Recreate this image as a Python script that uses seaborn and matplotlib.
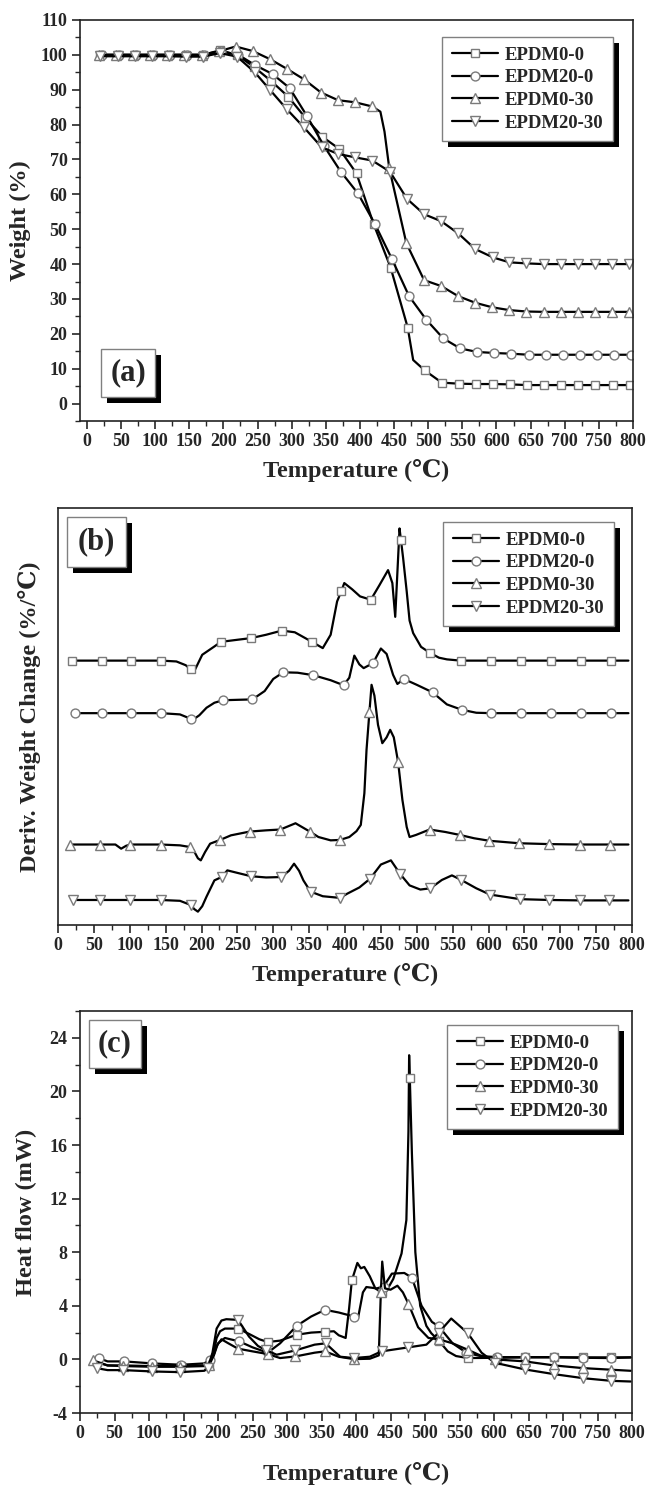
import matplotlib
matplotlib.use("Agg")
import matplotlib.pyplot as plt
import seaborn as sns
from matplotlib.patches import Rectangle
from matplotlib.ticker import MultipleLocator
from matplotlib.transforms import IdentityTransform

sns.set_theme(style="ticks")
plt.rcParams["font.family"] = ["Liberation Serif", "DejaVu Serif"]
plt.rcParams["font.weight"] = "bold"
plt.rcParams["axes.labelweight"] = "bold"
plt.rcParams["axes.unicode_minus"] = False

names = ["EPDM0-0", "EPDM20-0", "EPDM0-30", "EPDM20-30"]
markers = ["s", "o", "^", "v"]

# ---- (a) weight (%) vs temperature
a_t00 = [20, 45, 70, 95, 120, 145, 170, 195, 220, 245, 270, 295, 320, 345, 370, 395, 420, 445, 470, 478, 495,
         520, 545, 570, 595, 620, 645, 670, 695, 720, 745, 770, 795]
a_w00 = [100, 100, 100, 100, 100, 100, 100, 101.3, 100, 96.5, 92.5, 88, 82, 76.5, 73, 66, 51.5, 39, 21.8, 12.5, 9.5,
         6, 5.7, 5.6, 5.6, 5.5, 5.3, 5.3, 5.3, 5.3, 5.3, 5.3, 5.3]
a_m00 = [20, 45, 70, 95, 120, 145, 170, 195, 220, 245, 270, 295, 320, 345, 370, 395, 420, 445, 470, 495,
         520, 545, 570, 595, 620, 645, 670, 695, 720, 745, 770, 795]

a_t200 = [22, 47, 72, 97, 122, 147, 172, 197, 222, 247, 272, 297, 322, 347, 372, 397, 422, 447, 472, 497, 522,
          547, 572, 597, 622, 647, 672, 697, 722, 747, 772, 797]
a_w200 = [100, 100, 100, 100, 100, 100, 100, 101, 100, 97, 94.5, 90.5, 82.6, 74, 66.5, 60.3, 51.5, 41.4, 30.8, 24.1,
          18.7, 15.8, 14.8, 14.5, 14.3, 14.0, 14.0, 14.0, 14.0, 14.0, 14.0, 14.0]
a_m200 = a_t200

a_t030 = [18, 43, 68, 93, 118, 143, 168, 193, 218, 243, 268, 293, 318, 343, 368, 393, 418, 430, 436, 443, 468,
          494, 519, 544, 569, 594, 619, 644, 669, 694, 719, 744, 769, 794]
a_w030 = [100, 100, 100, 100, 100, 100, 100, 101, 102.4, 101.1, 98.8, 96, 93, 89.2, 87, 86.4, 85.2, 83.7, 78, 67.5,
          46, 35.4, 33.7, 30.8, 28.9, 27.6, 26.8, 26.4, 26.3, 26.3, 26.3, 26.3, 26.3, 26.3]
a_m030 = [18, 43, 68, 93, 118, 143, 168, 193, 218, 243, 268, 293, 318, 343, 368, 393, 418, 443, 468,
          494, 519, 544, 569, 594, 619, 644, 669, 694, 719, 744, 769, 794]

a_t2030 = [20, 45, 70, 95, 120, 145, 170, 195, 220, 246, 269, 293, 318, 344, 368, 393, 418, 444, 469, 494, 519,
           544, 569, 595, 619, 644, 669, 694, 719, 744, 769, 794]
a_w2030 = [99.6, 99.6, 99.6, 99.6, 99.6, 99.5, 99.5, 100.5, 99.5, 95, 89.8, 84.4, 79.2, 73.5, 71.6, 70.6, 69.7, 66.5,
           58.7, 54.3, 52.3, 48.8, 44.3, 41.9, 40.5, 40.2, 40, 40, 40, 40, 40, 40]
a_m2030 = a_t2030

# ---- (b) derivative weight change (arbitrary offset units, 0-100 frame)
b_t00 = [19, 61, 102, 144, 165, 178, 185, 190, 201, 218, 227, 250, 269, 290, 312, 330, 354, 369, 380, 389, 395,
         399, 410, 421, 436, 448, 460, 466, 470, 474, 476, 478, 481, 486, 490, 495, 506, 518, 531, 542, 561,
         603, 645, 687, 729, 771, 795]
b_y00 = [63.4, 63.4, 63.4, 63.4, 63.2, 62.3, 61.3, 60.9, 64.8, 66.8, 67.9, 68.4, 68.8, 69.6, 70.6, 70.2, 67.9, 66.4,
         69.6, 77.6, 80.1, 82.0, 80.5, 78.8, 78.0, 81.5, 85.1, 82, 73.9, 88, 95.1, 92.3, 88, 80, 73, 70, 66.7, 65.3,
         64.1, 63.7, 63.4, 63.4, 63.4, 63.4, 63.4, 63.4, 63.4]
b_m00 = [19, 61, 102, 144, 185, 227, 269, 312, 354, 395, 436, 478, 518, 561, 603, 645, 687, 729, 771]

b_t200 = [23, 61, 102, 144, 170, 180, 186, 188, 197, 207, 218, 230, 250, 271, 288, 300, 314, 334, 356, 380, 398,
          406, 413, 420, 426, 439, 450, 458, 467, 473, 482, 500, 522, 542, 563, 583, 604, 645, 687, 729, 771, 795]
b_y200 = [50.8, 50.8, 50.8, 50.8, 50.5, 49.8, 49.3, 49.2, 50.3, 52.1, 53.3, 53.9, 54.0, 54.1, 56.1, 59, 60.6, 60.5,
          59.9, 58.7, 57.5, 59.3, 64.6, 62.5, 61.6, 62.8, 66.3, 65, 60, 57.8, 59.0, 57.6, 55.8, 52.9, 51.6, 50.9,
          50.8, 50.8, 50.8, 50.8, 50.8, 50.8]
b_m200 = [23, 61, 102, 144, 186, 230, 271, 314, 356, 398, 439, 482, 522, 563, 604, 645, 687, 729, 771]

b_t030 = [17, 59, 80, 88, 95, 101, 143, 170, 184, 189, 195, 199, 205, 212, 226, 241, 267, 290, 310, 331, 351, 363,
          380, 393, 406, 416, 422, 427, 430, 434, 437, 441, 446, 452, 458, 463, 468, 474, 480, 486, 490, 499, 518,
          540, 560, 580, 601, 643, 685, 727, 769, 795]
b_y030 = [19.3, 19.3, 19.3, 18.3, 19.0, 19.3, 19.3, 19.1, 18.7, 17.9, 16, 15.5, 17.5, 19.5, 20.4, 21.5, 22.4, 22.7,
          22.9, 24.4, 22.4, 21.1, 20.3, 20.4, 21.1, 22.5, 24, 31.6, 42, 51, 57.6, 55, 48, 43.6, 45, 46.8, 45, 39.1,
          30, 23.5, 21.1, 21.6, 22.9, 22.3, 21.6, 20.8, 20.2, 19.6, 19.4, 19.3, 19.3, 19.3]
b_m030 = [17, 59, 101, 143, 184, 226, 267, 310, 351, 393, 434, 474, 518, 560, 601, 643, 685, 727, 769]

b_t2030 = [21, 59, 101, 143, 170, 185, 190, 195, 201, 207, 218, 228, 236, 250, 269, 290, 311, 322, 329, 336, 342,
           352, 369, 393, 403, 420, 435, 450, 464, 477, 490, 505, 519, 535, 549, 561, 583, 602, 644, 685, 727, 768,
           795]
b_y2030 = [6.0, 6.0, 6.0, 6.0, 5.8, 4.8, 3.8, 3.2, 4.5, 6.8, 10.7, 11.5, 13.1, 12.5, 11.7, 11.4, 11.5, 13, 14.7, 13,
           10.7, 8.0, 6.9, 6.5, 7.5, 9, 11.1, 14.5, 15.5, 12.2, 9.5, 8.5, 8.8, 10.8, 11.9, 10.9, 8.8, 7.3, 6.2, 6.0,
           5.9, 5.9, 5.9]
b_m2030 = [21, 59, 101, 143, 185, 228, 269, 311, 352, 393, 435, 477, 519, 561, 602, 644, 685, 727, 768]

# ---- (c) heat flow (mW)
c_t00 = [24, 40, 63, 105, 146, 180, 187, 193, 198, 203, 210, 229, 245, 260, 272, 290, 314, 335, 355, 368, 375, 385,
         390, 394, 402, 407, 412, 420, 428, 437, 444, 454, 466, 473, 476, 477, 478, 481, 486, 493, 502, 509, 521,
         533, 545, 562, 604, 645, 687, 729, 770, 798]
c_y00 = [-0.2, -0.45, -0.45, -0.5, -0.5, -0.45, -0.4, 0.3, 1.6, 2.1, 2.3, 2.3, 1.9, 1.5, 1.3, 1.4, 1.84, 2.0, 2.06,
         2.1, 1.8, 1.6, 3.8, 5.9, 7.2, 6.8, 6.9, 6.2, 5.3, 5.0, 5.1, 6.0, 7.9, 10.4, 17, 22.7, 21.0, 15.4, 8.0, 4.0,
         2.5, 1.96, 1.34, 0.6, 0.25, 0.1, 0.12, 0.15, 0.15, 0.15, 0.15, 0.15]
c_m00 = [24, 63, 105, 146, 187, 229, 272, 314, 355, 394, 437, 478, 521, 562, 604, 645, 687, 729, 770]

c_t200 = [27, 40, 64, 105, 147, 180, 188, 194, 200, 210, 231, 250, 272, 290, 314, 335, 355, 375, 397, 403, 410, 415,
          430, 440, 452, 470, 481, 495, 510, 520, 540, 560, 580, 604, 645, 687, 729, 770, 798]
c_y200 = [0.1, -0.15, -0.15, -0.3, -0.4, -0.3, -0.07, 0.3, 1.2, 1.6, 1.34, 0.9, 0.5, 1.2, 2.5, 3.2, 3.7, 3.5, 3.2,
          3.1, 5.0, 5.4, 5.3, 5.44, 6.4, 6.45, 6.1, 4.0, 2.8, 2.46, 1.2, 0.5, 0.25, 0.17, 0.17, 0.17, 0.12, 0.1, 0.15]
c_m200 = [27, 64, 105, 147, 188, 231, 272, 314, 355, 397, 440, 481, 520, 560, 604, 645, 687, 729, 770]

c_t030 = [19, 40, 63, 105, 145, 180, 187, 193, 198, 205, 215, 229, 250, 272, 290, 312, 340, 355, 375, 397, 420, 433,
          436, 438, 442, 450, 460, 468, 476, 490, 505, 520, 540, 562, 580, 602, 645, 687, 729, 770, 798]
c_y030 = [-0.07, -0.45, -0.5, -0.55, -0.55, -0.5, -0.45, 0.2, 1.0, 1.5, 1.2, 0.8, 0.6, 0.4, 0.1, 0.22, 0.5, 0.6,
          0.2, 0.02, 0.05, 0.3, 5.0, 7.3, 5.3, 5.2, 5.5, 5.0, 4.15, 2.4, 1.6, 1.5, 1.2, 0.72, 0.3, 0.0, -0.15, -0.45,
          -0.65, -0.77, -0.85]
c_m030 = [19, 63, 105, 145, 187, 229, 272, 312, 355, 397, 436, 476, 520, 562, 602, 645, 687, 729, 770]

c_t2030 = [24, 40, 63, 105, 145, 180, 185, 192, 198, 205, 212, 229, 245, 258, 269, 285, 312, 340, 356, 377, 397,
           420, 437, 476, 502, 520, 538, 562, 582, 601, 645, 687, 729, 770, 798]
c_y2030 = [-0.65, -0.8, -0.8, -0.9, -0.95, -0.85, -0.65, 0.5, 2.3, 2.9, 3.0, 2.95, 1.7, 1.0, 0.7, 0.35, 0.67, 1.1,
           1.2, 0.2, 0.1, 0.2, 0.6, 0.9, 1.1, 2.0, 3.05, 1.96, 0.5, -0.25, -0.75, -1.1, -1.4, -1.6, -1.65]
c_m2030 = [24, 63, 105, 145, 185, 229, 269, 312, 356, 397, 437, 476, 520, 562, 601, 645, 687, 729, 770]

W, H = 648, 1491
fig = plt.figure(figsize=(W / 100, H / 100), dpi=100)


def px_axes(left, top, right, bottom):
    return fig.add_axes([left / W, 1 - bottom / H, (right - left) / W, (bottom - top) / H])


def draw_series(ax, series):
    for (t, y, mk), name, m in zip(series, names, markers):
        idx = [t.index(v) for v in mk]
        sns.lineplot(x=t, y=y, ax=ax, estimator=None, sort=False, legend=False, color="black", lw=1.6,
                     marker=m, markevery=idx, ms=7.0 if m in "^v" else 6.4, mfc="white", mec="#7a7a7a",
                     mew=1.0, label=name)


def style_axes(ax, xlim, ylim, ylabel, xpad, ypad, ymaj=None, ymin=None):
    ax.set_xlim(*xlim)
    ax.set_ylim(*ylim)
    ax.xaxis.set_major_locator(MultipleLocator(50))
    ax.xaxis.set_minor_locator(MultipleLocator(25))
    if ymaj:
        ax.yaxis.set_major_locator(MultipleLocator(ymaj))
        ax.yaxis.set_minor_locator(MultipleLocator(ymin))
    else:
        ax.set_yticks([])
    ax.tick_params(which="major", direction="out", length=6, width=1.2, labelsize=13, pad=3)
    ax.tick_params(which="minor", direction="out", length=3.5, width=1.0)
    for lab in ax.get_xticklabels() + ax.get_yticklabels():
        lab.set_fontweight("bold")
    for sp in ax.spines.values():
        sp.set_visible(True)
        sp.set_color("#222222")
        sp.set_linewidth(1.2)
    ax.set_xlabel("Temperature (℃)", fontsize=17.5, fontweight="bold", labelpad=xpad)
    ax.set_ylabel(ylabel, fontsize=17.5, fontweight="bold", labelpad=ypad)


def add_legend(ax, right, top):
    h, l = ax.get_legend_handles_labels()
    leg = fig.legend(h, l, loc="upper right", bbox_to_anchor=(right / W, 1 - top / H), borderaxespad=0,
                     frameon=True, fancybox=False, edgecolor="#808080", framealpha=1,
                     prop=dict(size=13.5, weight="bold"), handlelength=2.5, handletextpad=0.35,
                     labelspacing=0.3, borderpad=0.5)
    leg.get_frame().set_linewidth(1.0)
    return leg


def label_box(x0, y0, x1, y1, s):
    w, h = (x1 - x0) / W, (y1 - y0) / H
    fx, fy = x0 / W, 1 - y1 / H
    fig.add_artist(Rectangle((fx + 6 / W, fy - 6 / H), w, h, transform=fig.transFigure,
                             fc="black", ec="none", zorder=10))
    fig.add_artist(Rectangle((fx, fy), w, h, transform=fig.transFigure,
                             fc="white", ec="#808080", lw=1.0, zorder=11))
    fig.text((x0 + x1) / 2 / W, 1 - (y0 + y1) / 2 / H, s, ha="center", va="center",
             fontsize=22, fontweight="bold", zorder=12)


ax_a = px_axes(80, 20, 633, 421)
draw_series(ax_a, [(a_t00, a_w00, a_m00), (a_t200, a_w200, a_m200),
                   (a_t030, a_w030, a_m030), (a_t2030, a_w2030, a_m2030)])
style_axes(ax_a, (-10, 800), (-5, 110), "Weight (%)", 6, 7, 10, 5)

ax_b = px_axes(58, 508, 632, 925)
draw_series(ax_b, [(b_t00, b_y00, b_m00), (b_t200, b_y200, b_m200),
                   (b_t030, b_y030, b_m030), (b_t2030, b_y2030, b_m2030)])
style_axes(ax_b, (0, 800), (0, 100), "Deriv. Weight Change (%/℃)", 6, 12)

ax_c = px_axes(80, 1011, 632, 1413)
draw_series(ax_c, [(c_t00, c_y00, c_m00), (c_t200, c_y200, c_m200),
                   (c_t030, c_y030, c_m030), (c_t2030, c_y2030, c_m2030)])
style_axes(ax_c, (0, 800), (-4, 26), "Heat flow (mW)", 14, 9, 4, 2)

legs = [add_legend(ax_a, 613, 37), add_legend(ax_b, 614, 522), add_legend(ax_c, 618, 1025)]

label_box(101, 349, 155, 397, "(a)")
label_box(67, 517, 126, 567, "(b)")
label_box(89, 1020, 141, 1068, "(c)")

fig.canvas.draw()
for leg in legs:
    x0, y0, w, h = leg.get_frame().get_window_extent().bounds
    fig.add_artist(Rectangle((x0 + 6, y0 - 6), w, h, transform=IdentityTransform(),
                             fc="black", ec="none", zorder=4))

fig.savefig("out.png", dpi=100, facecolor="white")
